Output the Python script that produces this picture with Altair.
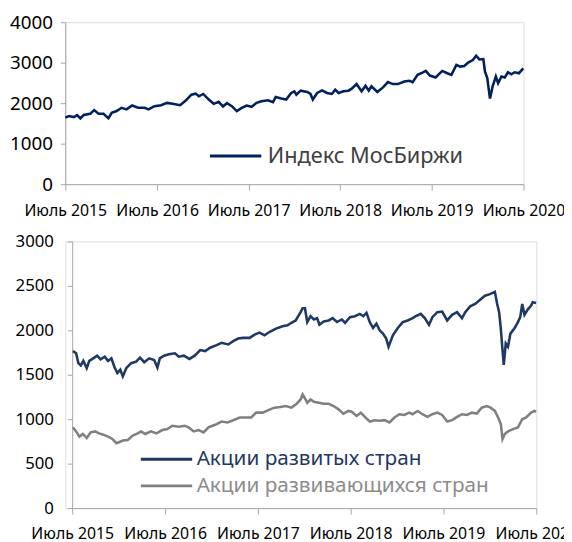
import altair as alt
import pandas as pd

# ---------- Data (time as months since July 2015) ----------
moex_month = [
    0, 0.48, 1.13, 1.55, 1.98, 2.42, 3.27, 3.79, 4.36, 5.01,
    5.65, 6.08, 6.73, 7.37, 8.02, 8.76, 9.53, 10.39, 10.91, 11.68,
    12.55, 13.32, 14.06, 15.05, 15.78, 16.52, 17.08, 17.5, 18.07, 18.8,
    19.44, 20.09, 20.66, 21.18, 21.82, 22.47, 23.12, 23.76, 24.41, 25.06,
    25.71, 26.56, 27.21, 27.56, 28.29, 28.94, 29.59, 30.01,
    30.27, 30.83, 31.69, 32.12, 32.43, 32.99, 33.64, 34.28, 34.93, 35.36,
    35.8, 36.44, 37.09, 37.52, 38.16, 38.81, 39.33, 39.75, 40.1, 40.88,
    41.62, 42.26, 42.91, 43.56, 44.41, 45.06, 45.5, 46.15, 46.79, 47.22,
    47.77, 48.51, 49.38, 50.03, 50.58, 51.23, 51.75, 52.26, 52.82, 53.39,
    53.82, 54.24, 54.76, 54.98, 55.28, 55.63, 55.98, 56.4, 56.7, 57.14,
    57.57, 57.99, 58.43, 58.86, 59.42, 60,
]
moex_values = [
    1642, 1683, 1658, 1707, 1626, 1707, 1740, 1829, 1740, 1740,
    1626, 1764, 1805, 1886, 1846, 1943, 1886, 1886, 1846, 1927,
    1951, 2008, 1984, 1951, 2065, 2211, 2236, 2171, 2228, 2089,
    1984, 2033, 1919, 2000, 1927, 1805, 1886, 1943, 1911, 2008,
    2049, 2073, 2024, 2154, 2114, 2089, 2252, 2293,
    2211, 2309, 2276, 2228, 2089, 2252, 2317, 2252, 2228, 2333,
    2252, 2293, 2309, 2358, 2472, 2293, 2431, 2309, 2415, 2276,
    2390, 2520, 2472, 2472, 2537, 2553, 2520, 2700, 2756, 2797,
    2683, 2634, 2797, 2740, 2700, 2943, 2903, 2919, 3008, 3065,
    3171, 3081, 3089, 2780, 2618, 2114, 2415, 2659, 2496, 2659,
    2634, 2764, 2715, 2764, 2740, 2862,
]

dev_month = [
    0.09, 0.51, 0.8, 1.11, 1.44, 1.88, 2.21, 2.72, 3.23, 3.67,
    4.21, 4.64, 5.07, 5.49, 5.84, 6.22, 6.55, 6.99, 7.62, 8.26,
    8.77, 9.32, 9.96, 10.6, 11.02, 11.33, 11.88, 12.52, 13.28, 13.79,
    14.43, 15.16, 15.84, 16.56, 17.2, 17.84, 18.68, 19.32, 20.18, 20.82,
    21.46, 22.09, 22.95, 23.59, 24.23, 24.87, 25.5, 26.35, 27.2, 27.84,
    28.35, 28.9, 29.54, 29.8,
    30.1, 30.4, 30.82, 31.25, 31.67, 31.97, 32.53, 33.17, 33.68, 34.23,
    34.87, 35.29, 35.93, 36.56, 37.2, 37.64, 38.06, 38.48, 38.91, 39.34,
    39.76, 40.19, 40.61, 40.91, 41.47, 42.11, 42.75, 43.38, 44.02, 44.44,
    45.08, 45.59, 46.14, 46.58, 47.22, 47.85, 48.49, 49.13, 49.77, 50.41,
    50.83, 51.47, 52.11, 52.75, 53.38, 54.02, 54.66, 54.96, 55.21, 55.43,
    55.65, 55.81, 56.07, 56.36, 56.67, 57.22, 57.64, 57.94, 58.2, 58.49,
    58.91, 59.35, 59.55, 60,
]
dev_values = [
    1767, 1741, 1630, 1604, 1656, 1574, 1656, 1685, 1715, 1674,
    1704, 1656, 1685, 1582, 1519, 1556, 1482, 1574, 1630, 1648,
    1693, 1641, 1685, 1667, 1582, 1685, 1715, 1730, 1741, 1704,
    1715, 1678, 1715, 1778, 1767, 1804, 1833, 1859, 1841, 1878,
    1907, 1915, 1915, 1952, 1974, 1944, 1981, 2019, 2045, 2056,
    2085, 2111, 2204, 2248,
    2248, 2093, 2159, 2122, 2137, 2063, 2100, 2111, 2137, 2093,
    2122, 2085, 2148, 2159, 2185, 2159, 2196, 2093, 2026, 2074,
    2000, 1963, 1907, 1815, 1944, 2026, 2093, 2111, 2137, 2159,
    2185, 2137, 2063, 2148, 2204, 2211, 2111, 2174, 2204, 2137,
    2204, 2270, 2296, 2345, 2389, 2407, 2433, 2296, 2204, 2019,
    1778, 1611, 1852, 1815, 1963, 2026, 2093, 2148, 2296, 2174,
    2233, 2278, 2315, 2307,
]

em_month = [
    0.09, 0.51, 0.93, 1.37, 1.88, 2.39, 2.94, 3.49, 4.0, 4.64,
    5.2, 5.71, 6.04, 6.55, 7.19, 7.83, 8.47, 8.9, 9.45, 10.18,
    10.89, 11.66, 12.3, 12.94, 13.79, 14.56, 15.07, 15.71, 16.35, 16.99,
    17.62, 18.48, 19.32, 20.09, 20.82, 21.67, 22.52, 23.15, 23.79, 24.65,
    25.29, 26.14, 26.91, 27.62, 28.35, 29.03, 29.54, 29.8,
    30.1, 30.4, 30.82, 31.25, 31.89, 32.53, 33.17, 33.81, 34.44, 35.08,
    35.72, 36.14, 36.78, 37.33, 37.84, 38.48, 39.12, 39.76, 40.4, 41.03,
    41.67, 42.31, 42.95, 43.59, 44.02, 44.66, 45.3, 45.94, 46.58, 47.22,
    47.85, 48.49, 49.13, 49.77, 50.41, 51.05, 51.69, 52.33, 52.96, 53.6,
    54.11, 54.66, 55.08, 55.43, 55.65, 55.94, 56.36, 57.0, 57.64, 58.2,
    58.71, 59.35, 59.77, 60,
]
em_values = [
    908, 863, 804, 834, 789, 852, 863, 841, 826, 804,
    778, 730, 741, 760, 767, 815, 841, 863, 834, 863,
    841, 878, 889, 926, 915, 926, 908, 863, 878, 852,
    908, 937, 974, 963, 989, 1019, 1019, 1019, 1074, 1074,
    1100, 1130, 1137, 1148, 1130, 1174, 1222, 1278,
    1233, 1185, 1222, 1196, 1185, 1174, 1174, 1148, 1111, 1063,
    1093, 1085, 1037, 1074, 1026, 974, 989, 982, 989, 963,
    1019, 1056, 1048, 1074, 1056, 1093, 1056, 1026, 1056, 1074,
    1048, 974, 989, 1026, 1056, 1048, 1074, 1063, 1130, 1148,
    1130, 1093, 1019, 945, 778, 834, 863, 889, 908, 1000,
    1019, 1074, 1093, 1085,
]

moex_name = "Индекс МосБиржи"
dev_name = "Акции развитых стран"
em_name = "Акции развивающихся стран"
START = pd.Timestamp("2015-07-01")


def to_dates(months):
    return [START + pd.Timedelta(days=m * 365.25 / 12) for m in months]


moex_df = pd.DataFrame({"date": to_dates(moex_month), "value": moex_values, "series": moex_name})
dev_df = pd.DataFrame({"date": to_dates(dev_month), "value": dev_values, "series": dev_name})
em_df = pd.DataFrame({"date": to_dates(em_month), "value": em_values, "series": em_name})

FONT = "Noto Sans"
AXIS_GRAY = "#a6a6a6"
x_domain = [alt.DateTime(year=2015, month=7, date=1), alt.DateTime(year=2020, month=7, date=1)]
x_ticks = [alt.DateTime(year=y, month=7, date=1) for y in range(2015, 2021)]
label_expr = "'Июль ' + timeFormat(datum.value, '%Y')"


def x_enc(label_padding, rng=None):
    scale = alt.Scale(domain=x_domain, range=rng) if rng else alt.Scale(domain=x_domain)
    return alt.X(
        "date:T",
        scale=scale,
        axis=alt.Axis(
            values=x_ticks, labelExpr=label_expr, title=None, grid=False,
            domainColor=AXIS_GRAY, tickColor=AXIS_GRAY, tickSize=6,
            labelFontSize=16, labelFont=FONT, labelColor="#000000",
            labelPadding=label_padding, labelOverlap=False, labelFlush=False,
        ),
    )


def legend(x, y, color, size, offset):
    return alt.Legend(
        title=None, orient="none", legendX=x, legendY=y, padding=0,
        symbolType="stroke", symbolSize=2704, symbolStrokeWidth=3,
        labelFont=FONT, labelFontSize=size, labelColor=color, labelOffset=offset,
        labelLimit=500,
    )


# ---------- Top panel ----------
top = alt.Chart(moex_df).mark_line(strokeWidth=2.6).encode(
    x=x_enc(13),
    y=alt.Y(
        "value:Q",
        scale=alt.Scale(domain=[0, 4000], nice=False),
        axis=alt.Axis(
            values=[0, 1000, 2000, 3000, 4000], format="d", title=None, grid=False,
            domainColor=AXIS_GRAY, tickColor=AXIS_GRAY, tickSize=5,
            labelFontSize=19, labelFont=FONT, labelColor="#000000", labelPadding=8,
        ),
    ),
    color=alt.Color(
        "series:N",
        scale=alt.Scale(domain=[moex_name], range=["#002060"]),
        legend=legend(145, 108, "#404040", 22, 5),
    ),
).properties(width=464, height=164)

# ---------- Bottom panel ----------
y_bottom = alt.Y(
    "value:Q",
    scale=alt.Scale(domain=[0, 3000], nice=False),
    axis=alt.Axis(
        values=[0, 500, 1000, 1500, 2000, 2500, 3000], format="d", title=None,
        offset=-7, grid=False,
        domainColor=AXIS_GRAY, tickColor=AXIS_GRAY, tickSize=5,
        labelFontSize=17, labelFont=FONT, labelColor="#000000", labelPadding=14,
    ),
)

dev_line = alt.Chart(dev_df).mark_line(strokeWidth=2.6).encode(
    x=x_enc(12, [7, 477]),
    y=y_bottom,
    color=alt.Color(
        "series:N",
        scale=alt.Scale(domain=[dev_name], range=["#1f3864"]),
        legend=legend(75, 193, "#1f3864", 21, 3),
    ),
)

em_line = alt.Chart(em_df).mark_line(strokeWidth=2.6).encode(
    x=x_enc(12, [7, 477]),
    y=y_bottom,
    color=alt.Color(
        "series:N",
        scale=alt.Scale(domain=[em_name], range=["#808080"]),
        legend=legend(75, 220, "#8c8c8c", 21, 3),
    ),
)

bottom = alt.layer(dev_line, em_line).resolve_scale(color="independent").properties(
    width=477, height=270
)

chart = alt.vconcat(top, bottom, spacing=12).properties(
    padding={"left": 1, "top": 1, "right": -15, "bottom": 0}
).configure_view(stroke=None).configure(font=FONT)

chart.save("out.html", embed_options={"renderer": "svg", "actions": False})
